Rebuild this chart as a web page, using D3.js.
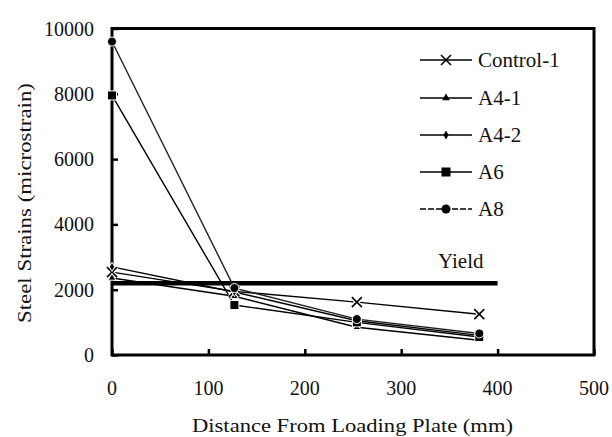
<!DOCTYPE html>
<html>
<head>
<meta charset="utf-8">
<script src="https://cdn.jsdelivr.net/npm/d3@7"></script>
<style>
  body { margin: 0; background: #fff; }
</style>
</head>
<body>
<div id="chart"></div>
<script>
// data
var distances = [0, 127, 254, 381];
var control1 = [2540, 1950, 1620, 1250];
var a4_1 = [2360, 1800, 850, 450];
var a4_2 = [2700, 1930, 1050, 600];
var a6 = [7950, 1530, 1000, 550];
var a8 = [9600, 2050, 1100, 660];
var seriesNames = ["Control-1", "A4-1", "A4-2", "A6", "A8"];
var yieldValue = 2200, yieldRange = [0, 400];
var xTicks = [0, 100, 200, 300, 400, 500];
var yTicks = [0, 2000, 4000, 6000, 8000, 10000];

var width = 612, height = 437;
var margin = {top: 28.5, left: 112, right: 18, bottom: 82};
var serif = "'Liberation Serif', 'DejaVu Serif', 'Noto Serif', serif";

var svg = d3.select("#chart").append("svg")
  .attr("width", width).attr("height", height)
  .attr("font-family", serif);

var x = d3.scaleLinear().domain([0, 500]).range([margin.left, width - margin.right]);
var y = d3.scaleLinear().domain([0, 10000]).range([height - margin.bottom, margin.top]);

// frame
svg.append("rect")
  .attr("x", x(0)).attr("y", y(10000))
  .attr("width", x(500) - x(0)).attr("height", y(0) - y(10000))
  .attr("fill", "none").attr("stroke", "#000").attr("stroke-width", 3);

// inward ticks
svg.append("g")
  .attr("transform", `translate(0, ${y(0)})`)
  .call(d3.axisTop(x).tickValues(xTicks).tickSize(6).tickFormat(""))
  .call(g => g.select(".domain").remove())
  .selectAll("line").attr("stroke-width", 2.5);
svg.append("g")
  .attr("transform", `translate(${x(0)}, 0)`)
  .call(d3.axisRight(y).tickValues(yTicks).tickSize(6).tickFormat(""))
  .call(g => g.select(".domain").remove())
  .selectAll("line").attr("stroke-width", 2.5);

// tick labels
xTicks.forEach(function(t) {
  svg.append("text")
    .attr("x", x(t)).attr("y", 395)
    .attr("text-anchor", "middle")
    .attr("font-size", "20px").attr("fill", "#111")
    .text(t);
});
yTicks.forEach(function(t) {
  svg.append("text")
    .attr("x", 94).attr("y", y(t) + 7)
    .attr("text-anchor", "end")
    .attr("font-size", "20px").attr("fill", "#111")
    .text(t);
});

// axis titles
svg.append("text")
  .attr("x", 192).attr("y", 432)
  .attr("font-size", "19px").attr("fill", "#111")
  .attr("textLength", 321).attr("lengthAdjust", "spacingAndGlyphs")
  .text("Distance From Loading Plate (mm)");
svg.append("text")
  .attr("transform", "translate(31, 323) rotate(-90)")
  .attr("font-size", "18px").attr("fill", "#111")
  .attr("textLength", 240).attr("lengthAdjust", "spacingAndGlyphs")
  .text("Steel Strains (microstrain)");

// yield line
svg.append("line")
  .attr("x1", x(yieldRange[0])).attr("x2", x(yieldRange[1]))
  .attr("y1", y(yieldValue)).attr("y2", y(yieldValue))
  .attr("stroke", "#000").attr("stroke-width", 4.5);
svg.append("text")
  .attr("x", 438).attr("y", 268)
  .attr("font-size", "21px").attr("fill", "#111")
  .text("Yield");

// markers
function drawMarker(g, name, cx, cy, halo) {
  var stroke = halo ? "#fff" : "none", sw = halo ? 1 : 0;
  if (name == "Control-1") {
    if (halo) g.append("path").attr("d", `M${cx-5},${cy-5}L${cx+5},${cy+5}M${cx-5},${cy+5}L${cx+5},${cy-5}`)
      .attr("stroke", "#fff").attr("stroke-width", 4);
    g.append("path").attr("d", `M${cx-5},${cy-5}L${cx+5},${cy+5}M${cx-5},${cy+5}L${cx+5},${cy-5}`)
      .attr("stroke", "#000").attr("stroke-width", 1.6).attr("fill", "none");
  } else if (name == "A4-1") {
    g.append("path").attr("d", d3.symbol(d3.symbolTriangle, 26)())
      .attr("transform", `translate(${cx},${cy})`)
      .attr("fill", "#000").attr("stroke", stroke).attr("stroke-width", sw);
  } else if (name == "A4-2") {
    g.append("path").attr("d", d3.symbol(d3.symbolDiamond, 24)())
      .attr("transform", `translate(${cx},${cy})`)
      .attr("fill", "#000").attr("stroke", stroke).attr("stroke-width", sw);
  } else if (name == "A6") {
    g.append("rect").attr("x", cx - 4.5).attr("y", cy - 4.5)
      .attr("width", 9).attr("height", 9)
      .attr("fill", "#000").attr("stroke", stroke).attr("stroke-width", sw);
  } else {
    g.append("circle").attr("cx", cx).attr("cy", cy).attr("r", 4.5)
      .attr("fill", "#000").attr("stroke", stroke).attr("stroke-width", sw);
  }
}

var allSeries = [control1, a4_1, a4_2, a6, a8];
var line = d3.line().x((d, i) => x(distances[i])).y(d => y(d));
var plot = svg.append("g");

allSeries.forEach(function(vals, k) {
  plot.append("path")
    .datum(vals)
    .attr("d", line)
    .attr("fill", "none")
    .attr("stroke", k == 4 ? "#222" : "#000")
    .attr("stroke-width", 1.4);
});
allSeries.forEach(function(vals, k) {
  vals.forEach(function(v, i) {
    drawMarker(plot, seriesNames[k], x(distances[i]), y(v), true);
  });
});

// legend
var legendY = [60, 98, 135, 172, 209];
var legend = svg.append("g");
seriesNames.forEach(function(name, k) {
  legend.append("line")
    .attr("x1", 420).attr("x2", 472)
    .attr("y1", legendY[k]).attr("y2", legendY[k])
    .attr("stroke", "#000").attr("stroke-width", 1.4)
    .attr("stroke-dasharray", k == 4 ? "6,2" : null);
  drawMarker(legend, name, 446, legendY[k], false);
  legend.append("text")
    .attr("x", 478).attr("y", legendY[k] + 7)
    .attr("font-size", "21px").attr("fill", "#111")
    .text(name);
});
</script>
</body>
</html>
